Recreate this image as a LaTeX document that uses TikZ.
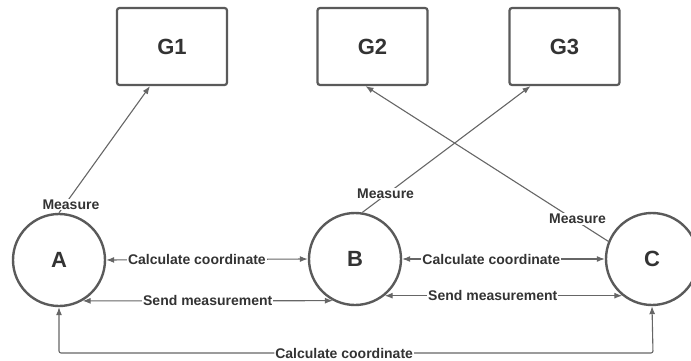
\documentclass[tikz,border=0pt]{standalone}
\usepackage{fontspec}
\setmainfont{Liberation Sans}
\usetikzlibrary{arrows.meta}
\definecolor{ink}{HTML}{333333}
\definecolor{edge}{HTML}{666666}
\definecolor{frame}{HTML}{5A5A5A}
\begin{document}
\begin{tikzpicture}[x=1pt,y=-1pt,
  gbox/.style={draw=frame,line width=2.2pt,rounded corners=2.5pt,minimum width=110pt,minimum height=77pt,
    font=\fontsize{22}{26}\selectfont\bfseries,text=ink},
  station/.style={circle,draw=frame,line width=2.4pt,minimum size=92pt,inner sep=0pt,
    font=\fontsize{22}{26}\selectfont\bfseries,text=ink},
  link/.style={draw=edge,line width=1.1pt,-{Latex[length=8pt,width=6pt]}},
  twoway/.style={draw=edge,line width=1.1pt,{Latex[length=8pt,width=6pt]}-{Latex[length=8pt,width=6pt]}},
  lbl/.style={fill=white,inner sep=1pt,text=ink,font=\fontsize{14}{16}\selectfont\bfseries}]
\useasboundingbox (0,0) rectangle (691,361);

% ground stations
\node[gbox] (G1) at (172,46.5) {G1};
\node[gbox] (G2) at (372.5,46.5) {G2};
\node[gbox] (G3) at (564.5,46.5) {G3};

% nodes
\node[station] (A) at (59,260) {A};
\node[station] (B) at (355,259) {B};
\node[station] (C) at (652,259) {C};

% measurements sent up to the boxes
\draw[link] (A.north) -- node[lbl,pos=0.065,xshift=6pt]{Measure} ([xshift=-22pt]G1.south);
\draw[link] (B.81) -- node[lbl,pos=0.15,xshift=-2pt]{Measure} ([xshift=-34pt]G3.south);
\draw[link] (C.158) -- node[lbl,pos=0.143,xshift=4pt]{Measure} ([xshift=-7pt]G2.south);

% exchanges between neighbours
\draw[twoway] (A.east) -- node[lbl,pos=0.45]{Calculate coordinate} (B.west);
\draw[twoway] (A.-60) -- node[lbl,pos=0.5]{Send measurement} (B.-118);
\draw[twoway] (B.east) -- node[lbl,pos=0.44]{Calculate coordinate} (C.west);
\draw[twoway] (B.-51) -- node[lbl,pos=0.455]{Send measurement} (C.-129);

% long way round from A to C
\coordinate (bl) at (59,353);
\coordinate (br) at (653,353);
\draw[twoway,rounded corners=2pt] (A.south) -- (bl) -- node[lbl,pos=0.48]{Calculate coordinate} (br) -- (C.south);
\end{tikzpicture}
\end{document}
